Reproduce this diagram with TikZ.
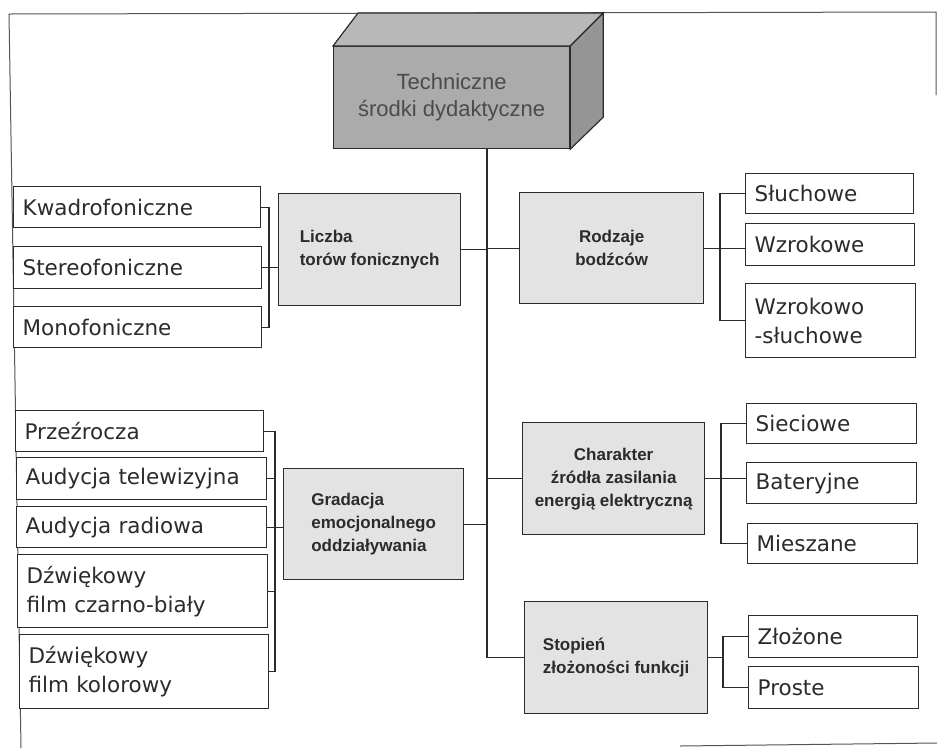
\documentclass[tikz,border=0pt]{standalone}
\usepackage{fontspec}
\setmainfont{DejaVu Sans}
\newfontfamily\catfont{Liberation Sans}
\definecolor{ink}{HTML}{2B2B2B}
\definecolor{rimline}{HTML}{555555}
\definecolor{catfill}{HTML}{E3E3E3}
\definecolor{frontfill}{HTML}{ABABAB}
\definecolor{topfill}{HTML}{B8B8B8}
\definecolor{sidefill}{HTML}{959595}
\begin{document}
\begin{tikzpicture}[x=1pt,y=-1pt,
  leaf/.style={draw=ink, line width=1.3pt, fill=white, anchor=north west,
    inner xsep=9pt, inner ysep=0pt, align=left, text=ink,
    font=\fontsize{21.5}{29}\selectfont},
  cat/.style={draw=ink, line width=1.3pt, fill=catfill, anchor=north west,
    inner sep=0pt, text=ink, font=\catfont\bfseries\fontsize{17}{23}\selectfont},
  root/.style={draw=ink, line width=1.2pt, fill=frontfill, anchor=north west,
    inner sep=0pt, align=center, text=ink!85,
    font=\catfont\fontsize{22}{27}\selectfont},
  face/.style={draw=ink, line width=1.2pt},
  wire/.style={draw=ink, line width=1.3pt},
  rim/.style={draw=rimline, line width=1pt}]
\useasboundingbox (0,0) rectangle (937,748);

% page frame
\draw[rim] (21,748) -- (9,14) -- (936,12) -- (936,95);
\draw[rim] (680,746) -- (937,743);

% root block drawn as a box with top and side faces
\node[root, minimum width=236pt, minimum height=102pt] (tsd) at (333,46)
  {Techniczne\\środki dydaktyczne};
\filldraw[face, fill=topfill] (tsd.north west) -- ([shift={(25,-33)}]tsd.north west)
  -- ([shift={(33,-33)}]tsd.north east) -- (tsd.north east) -- cycle;
\filldraw[face, fill=sidefill] (tsd.north east) -- ([shift={(33,-33)}]tsd.north east)
  -- ([shift={(33,-32)}]tsd.south east) -- (tsd.south east) -- cycle;

% categories
\node[cat, align=left, minimum width=182pt, minimum height=112pt] (liczba) at (278,193)
  {Liczba\\torów fonicznych};
\node[cat, align=center, minimum width=184pt, minimum height=111pt] (rodzaje) at (519,192)
  {Rodzaje\\bodźców};
\node[cat, align=left, minimum width=180pt, minimum height=111pt] (gradacja) at (283,468)
  {Gradacja\\emocjonalnego\\oddziaływania};
\node[cat, align=center, minimum width=182pt, minimum height=112pt] (charakter) at (522,422)
  {Charakter\\źródła zasilania\\energią elektryczną};
\node[cat, align=left, minimum width=183pt, minimum height=112pt] (stopien) at (524,601)
  {Stopień\\złożoności funkcji};

% left leaves
\node[leaf, text width=229pt, minimum height=41pt] (kwadro) at (13,186) {Kwadrofoniczne};
\node[leaf, text width=230pt, minimum height=42pt] (stereo) at (13,246) {Stereofoniczne};
\node[leaf, text width=230pt, minimum height=41pt] (mono) at (13,306) {Monofoniczne};
\node[leaf, text width=230pt, minimum height=41pt] (przez) at (15,410) {Przeźrocza};
\node[leaf, text width=232pt, minimum height=42pt] (audtel) at (16,457) {Audycja telewizyjna};
\node[leaf, text width=232pt, minimum height=41pt] (audrad) at (16,506) {Audycja radiowa};
\node[leaf, text width=232pt, minimum height=73pt] (dzwcb) at (17,554) {Dźwiękowy\\film czarno-biały};
\node[leaf, text width=231pt, minimum height=74pt] (dzwkol) at (19,634) {Dźwiękowy\\film kolorowy};

% right leaves
\node[leaf, text width=150pt, minimum height=40pt] (sluch) at (745,173) {Słuchowe};
\node[leaf, text width=151pt, minimum height=42pt] (wzrok) at (745,223) {Wzrokowe};
\node[leaf, text width=152pt, minimum height=74pt] (wzsl) at (745,283) {Wzrokowo\\-słuchowe};
\node[leaf, text width=152pt, minimum height=40pt] (siec) at (746,403) {Sieciowe};
\node[leaf, text width=152pt, minimum height=41pt] (bater) at (746,462) {Bateryjne};
\node[leaf, text width=152pt, minimum height=40pt] (miesz) at (747,523) {Mieszane};
\node[leaf, text width=151pt, minimum height=42pt] (zloz) at (748,615) {Złożone};
\node[leaf, text width=152pt, minimum height=42pt] (prost) at (748,666) {Proste};

% trunk and its branches
\coordinate (trunk) at (487,148);
\draw[wire] (trunk) -- (trunk |- stopien.west) -- (stopien.west);
\draw[wire] (liczba.east) -- (liczba.east -| trunk);
\draw[wire] (rodzaje.west) -- (rodzaje.west -| trunk);
\draw[wire] (gradacja.east) -- (gradacja.east -| trunk);
\draw[wire] (charakter.west) -- (charakter.west -| trunk);

% brackets on the left
\coordinate (bA) at (269,0);
\draw[wire] (kwadro.east) -- (kwadro.east -| bA) -- (mono.east -| bA) -- (mono.east);
\draw[wire] (stereo.east) -- (liczba.west |- stereo.east);
\coordinate (bB) at (275,0);
\draw[wire] (przez.east) -- (przez.east -| bB) -- (dzwkol.east -| bB) -- (dzwkol.east);
\draw[wire] (audtel.east) -- (audtel.east -| bB);
\draw[wire] (audrad.east) -- (gradacja.west |- audrad.east);
\draw[wire] (dzwcb.east) -- (dzwcb.east -| bB);

% brackets on the right
\coordinate (bC) at (720,0);
\draw[wire] (sluch.west) -- (sluch.west -| bC) -- (wzsl.west -| bC) -- (wzsl.west);
\draw[wire] (rodzaje.east) -- (wzrok.west |- rodzaje.east);
\coordinate (bD) at (721,0);
\draw[wire] (siec.west) -- (siec.west -| bD) -- (miesz.west -| bD) -- (miesz.west);
\draw[wire] (charakter.east) -- (bater.west |- charakter.east);
\coordinate (bE) at (723,0);
\draw[wire] (zloz.west) -- (zloz.west -| bE) -- (prost.west -| bE) -- (prost.west);
\draw[wire] (stopien.east) -- (stopien.east -| bE);
\end{tikzpicture}
\end{document}
